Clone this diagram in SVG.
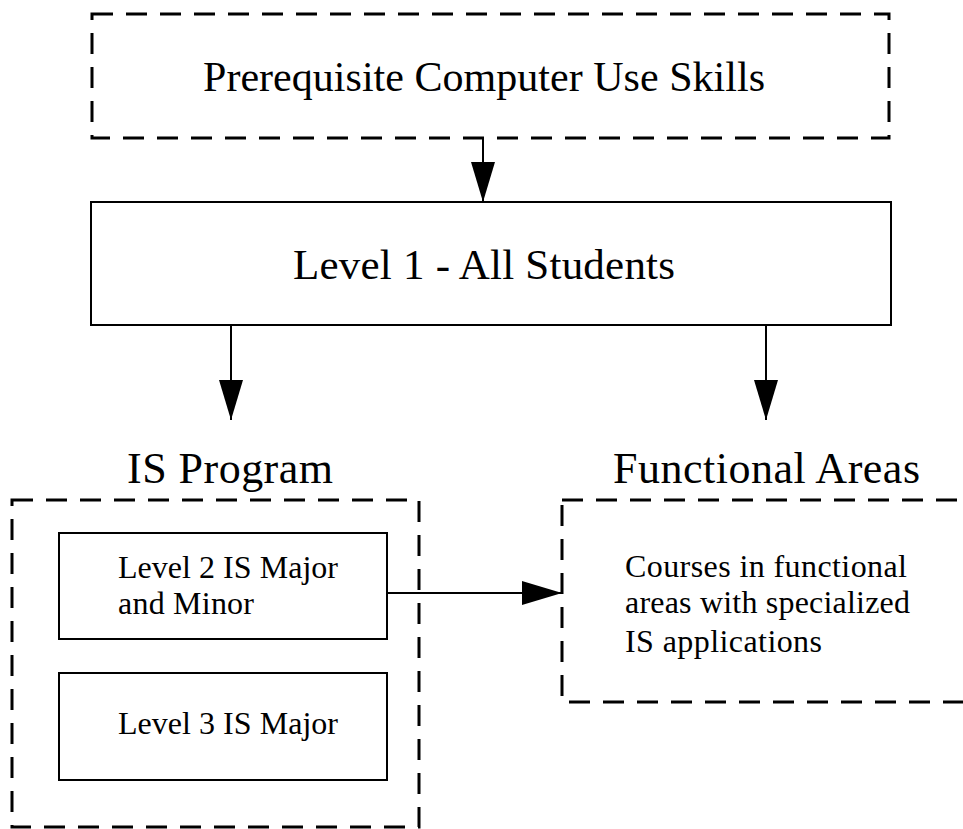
<svg xmlns="http://www.w3.org/2000/svg" width="963" height="829" viewBox="0 0 963 829">
<style>
.dash{fill:none;stroke:#000;stroke-width:3;stroke-dasharray:21 13}
.box{fill:#fff;stroke:#000;stroke-width:2}
.t{font-family:'Liberation Serif','Times New Roman',serif;fill:#000}
.big{font-size:42px}
.ttl{font-size:44px}
.sm{font-size:32px}
.conn{stroke:#000;stroke-width:2;fill:none;marker-end:url(#ah)}
</style>
<defs>
<marker id="ah" markerUnits="userSpaceOnUse" viewBox="0 0 40 24" refX="40" refY="12" markerWidth="40" markerHeight="24" orient="auto">
<path d="M0,0 L40,12 L0,24 Z" fill="#000"/>
</marker>
</defs>
<rect width="963" height="829" fill="#fff"/>
<g id="prereq">
<rect class="dash" x="92" y="14" width="797" height="124"/>
<text class="t big" x="203" y="91" textLength="562" lengthAdjust="spacing">Prerequisite Computer Use Skills</text>
</g>
<g id="level1">
<rect class="box" x="91" y="202" width="800" height="123"/>
<text class="t" font-size="43" x="293" y="279" textLength="382" lengthAdjust="spacing">Level 1 - All Students</text>
</g>
<g id="isprogram">
<text class="t ttl" x="127" y="483" textLength="206" lengthAdjust="spacing">IS Program</text>
<rect class="dash" x="12" y="500" width="407" height="327"/>
</g>
<g id="level2">
<rect class="box" x="59" y="533" width="328" height="106"/>
<text class="t sm" x="118" y="578" textLength="220" lengthAdjust="spacing">Level 2 IS Major</text>
<text class="t sm" x="118" y="614" textLength="136" lengthAdjust="spacing">and Minor</text>
</g>
<g id="level3">
<rect class="box" x="59" y="673" width="328" height="107"/>
<text class="t sm" x="118" y="734" textLength="220" lengthAdjust="spacing">Level 3 IS Major</text>
</g>
<g id="functional">
<text class="t ttl" x="613" y="483" textLength="307" lengthAdjust="spacing">Functional Areas</text>
<rect class="dash" x="562" y="500" width="440" height="202"/>
<text class="t sm" x="625" y="577" textLength="282" lengthAdjust="spacing">Courses in functional</text>
<text class="t sm" x="625" y="613" textLength="285" lengthAdjust="spacing">areas with specialized</text>
<text class="t sm" x="625" y="652" textLength="197" lengthAdjust="spacing">IS applications</text>
</g>
<g id="connectors">
<line class="conn" x1="483" y1="138" x2="483" y2="202"/>
<line class="conn" x1="231" y1="325" x2="231" y2="420"/>
<line class="conn" x1="766" y1="325" x2="766" y2="420"/>
<line class="conn" x1="387" y1="593" x2="562" y2="593"/>
</g>
</svg>
